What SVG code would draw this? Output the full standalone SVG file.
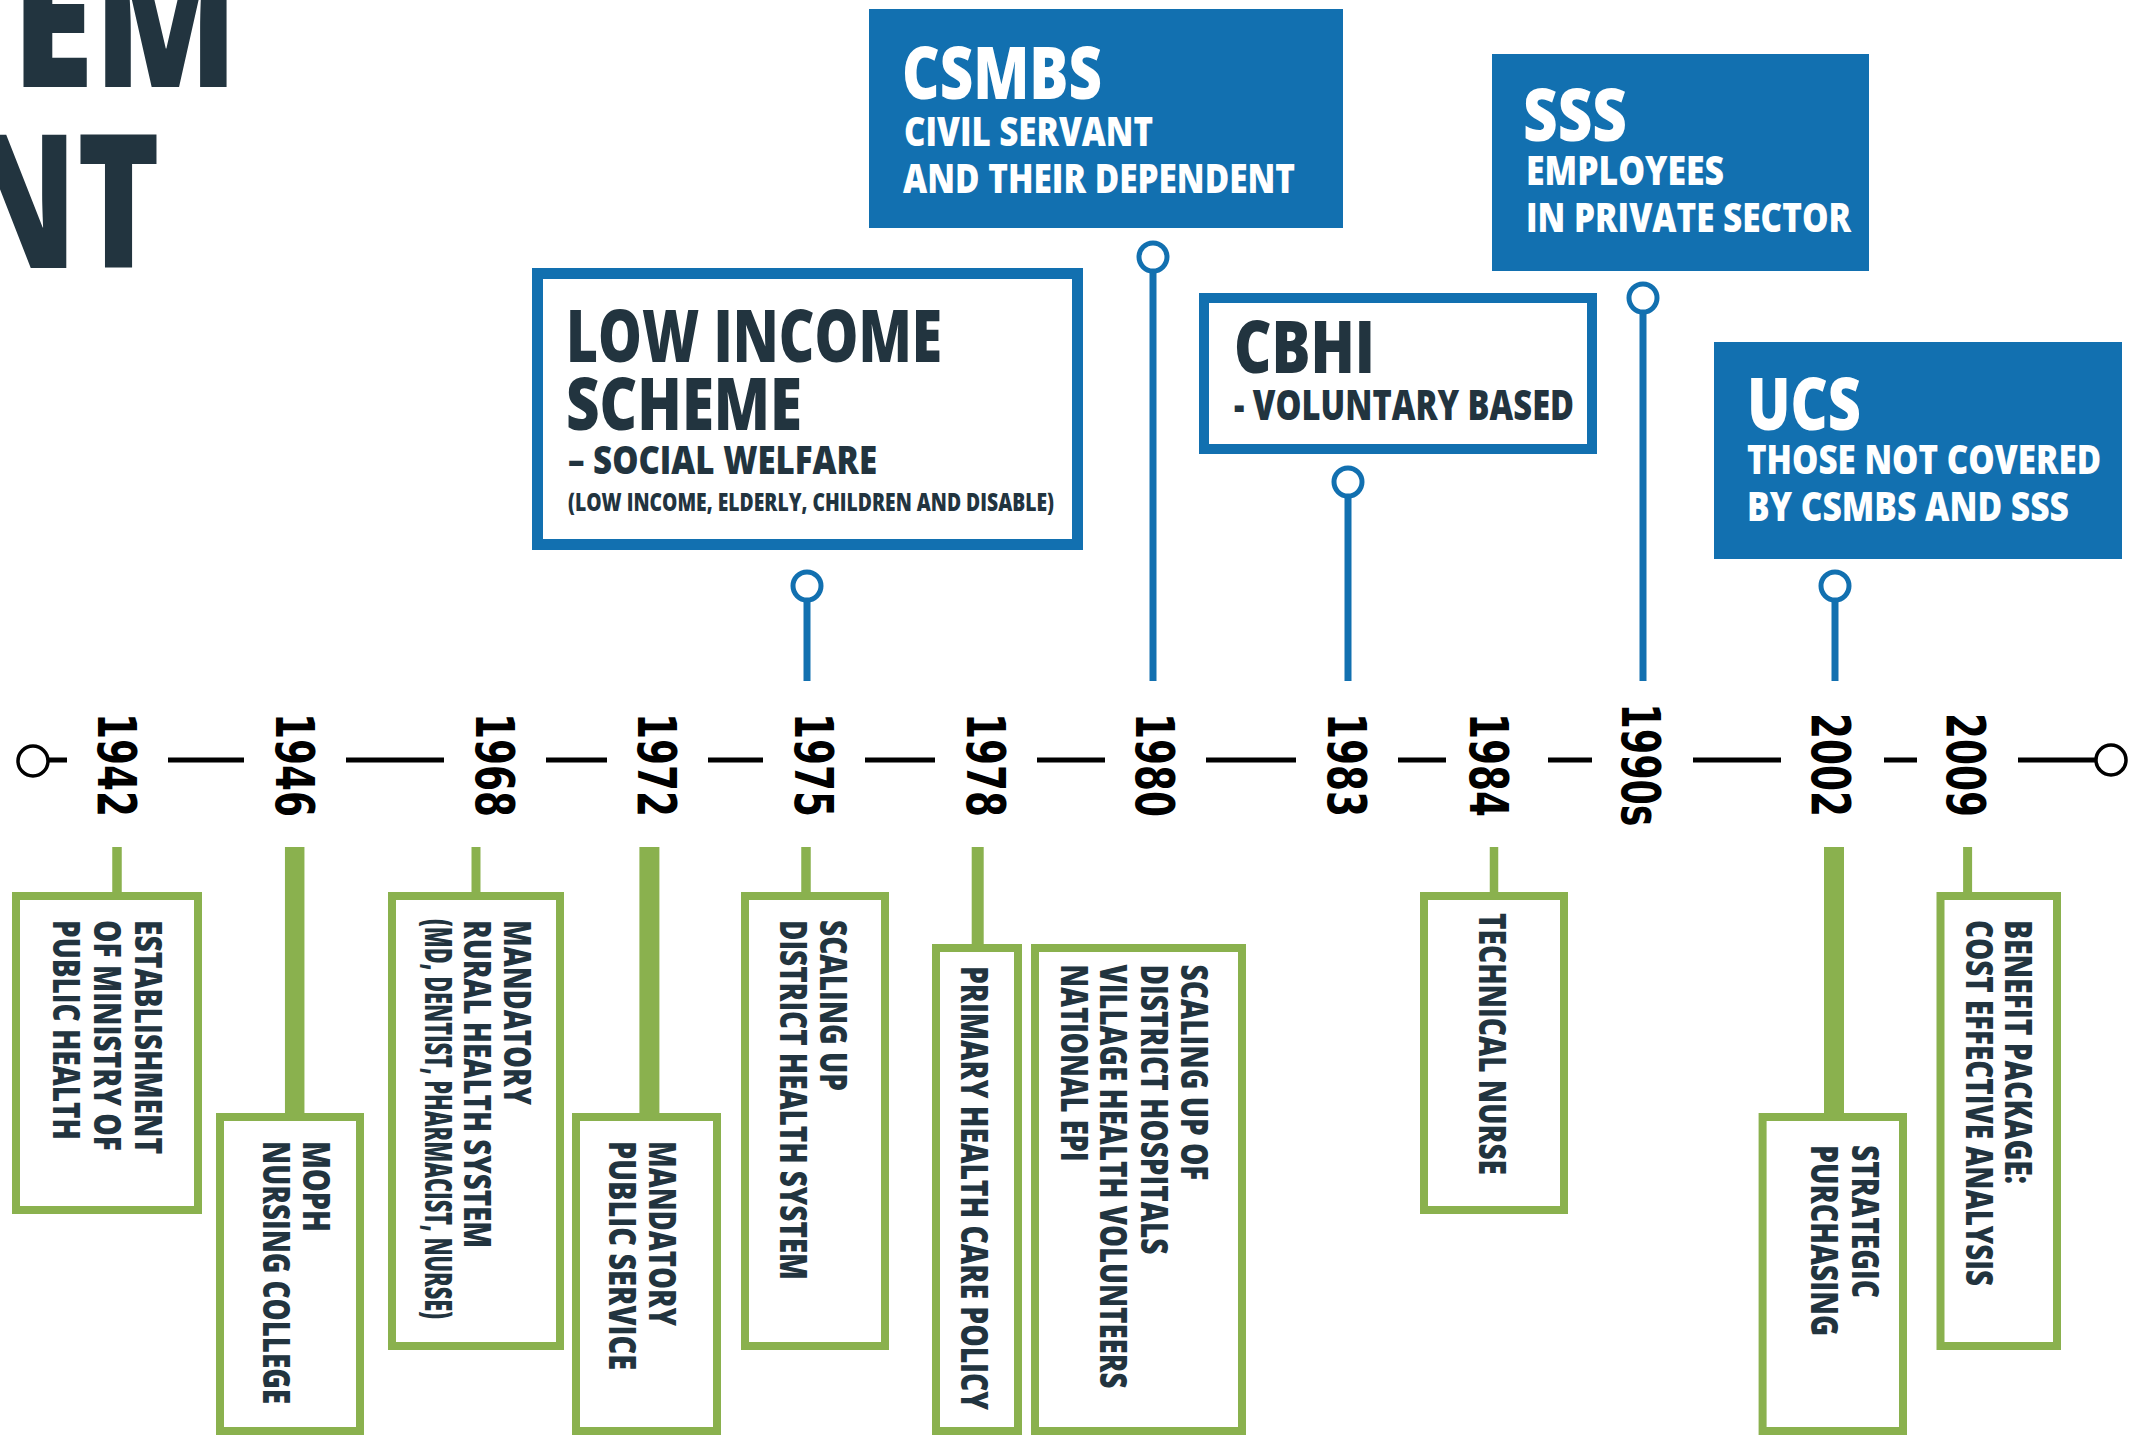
<svg xmlns="http://www.w3.org/2000/svg" width="2134" height="1441" viewBox="0 0 2134 1441">
<style>
.t{font-family:"Open Sans","Liberation Sans",sans-serif;font-weight:800}
.dark{fill:#22343f}
.wht{fill:#fff}
.bfill{fill:#1270b0}
.bout{fill:#fff;stroke:#1270b0}
.gbox{fill:#fff;stroke:#8ab14e;stroke-width:8}
.g{font-family:"Open Sans","Liberation Sans",sans-serif;font-weight:800;font-size:37px;fill:#22343f}
.yr{font-family:"DejaVu Sans","Verdana",sans-serif;font-weight:700;font-size:53px;fill:#000}
.tl{stroke:#000;stroke-width:5}
.pin{stroke:#1270b0;stroke-width:7}
.pinc{fill:#fff;stroke:#1270b0;stroke-width:5}
.stem{stroke:#8ab14e}
.end{fill:#fff;stroke:#000;stroke-width:3.5}
</style>
<rect width="2134" height="1441" fill="#fff"/>

<g id="title">
<text class="t dark" x="12" y="87" font-size="187" textLength="226" lengthAdjust="spacingAndGlyphs">EM</text>
<text class="t dark" x="160" y="268" font-size="187" text-anchor="end" textLength="200" lengthAdjust="spacingAndGlyphs">NT</text>
</g>

<g id="connectors">
<line class="tl" x1="48" y1="760" x2="67" y2="760"/>
<line class="tl" x1="168" y1="760" x2="244" y2="760"/>
<line class="tl" x1="346" y1="760" x2="444" y2="760"/>
<line class="tl" x1="546" y1="760" x2="607" y2="760"/>
<line class="tl" x1="708" y1="760" x2="763" y2="760"/>
<line class="tl" x1="865" y1="760" x2="935" y2="760"/>
<line class="tl" x1="1037" y1="760" x2="1105" y2="760"/>
<line class="tl" x1="1206" y1="760" x2="1296" y2="760"/>
<line class="tl" x1="1398" y1="760" x2="1446" y2="760"/>
<line class="tl" x1="1548" y1="760" x2="1592" y2="760"/>
<line class="tl" x1="1693" y1="760" x2="1781" y2="760"/>
<line class="tl" x1="1884" y1="760" x2="1917" y2="760"/>
<line class="tl" x1="2018" y1="760" x2="2096" y2="760"/>
<circle class="end" cx="33" cy="761" r="15"/>
<circle class="end" cx="2111" cy="760" r="15"/>

<line class="pin" x1="807" y1="601" x2="807" y2="681"/>
<line class="pin" x1="1153" y1="272" x2="1153" y2="681"/>
<line class="pin" x1="1348" y1="497" x2="1348" y2="681"/>
<line class="pin" x1="1643" y1="313" x2="1643" y2="681"/>
<line class="pin" x1="1835" y1="601" x2="1835" y2="681"/>
<circle class="pinc" cx="807" cy="586" r="14"/>
<circle class="pinc" cx="1153" cy="257" r="14"/>
<circle class="pinc" cx="1348" cy="482" r="14"/>
<circle class="pinc" cx="1643" cy="298" r="14"/>
<circle class="pinc" cx="1835" cy="586" r="14"/>

<line class="stem" stroke-width="9.5" x1="117" y1="847" x2="117" y2="893"/>
<line class="stem" stroke-width="19.5" x1="294.7" y1="847" x2="294.7" y2="1114"/>
<line class="stem" stroke-width="9" x1="476" y1="847" x2="476" y2="893"/>
<line class="stem" stroke-width="20" x1="649.4" y1="847" x2="649.4" y2="1114"/>
<line class="stem" stroke-width="9.5" x1="806" y1="847" x2="806" y2="893"/>
<line class="stem" stroke-width="12" x1="977.7" y1="847" x2="977.7" y2="953"/>
<line class="stem" stroke-width="8.5" x1="1494" y1="847" x2="1494" y2="893"/>
<line class="stem" stroke-width="20" x1="1834" y1="847" x2="1834" y2="1114"/>
<line class="stem" stroke-width="9" x1="1967.6" y1="847" x2="1967.6" y2="893"/>
</g>

<g id="years">
<text class="yr" transform="translate(98,765) rotate(90)" text-anchor="middle" textLength="104" lengthAdjust="spacingAndGlyphs">1942</text>
<text class="yr" transform="translate(276,765) rotate(90)" text-anchor="middle" textLength="104" lengthAdjust="spacingAndGlyphs">1946</text>
<text class="yr" transform="translate(476,765) rotate(90)" text-anchor="middle" textLength="104" lengthAdjust="spacingAndGlyphs">1968</text>
<text class="yr" transform="translate(638,765) rotate(90)" text-anchor="middle" textLength="104" lengthAdjust="spacingAndGlyphs">1972</text>
<text class="yr" transform="translate(795,765) rotate(90)" text-anchor="middle" textLength="104" lengthAdjust="spacingAndGlyphs">1975</text>
<text class="yr" transform="translate(967,765) rotate(90)" text-anchor="middle" textLength="104" lengthAdjust="spacingAndGlyphs">1978</text>
<text class="yr" transform="translate(1136,765) rotate(90)" text-anchor="middle" textLength="104" lengthAdjust="spacingAndGlyphs">1980</text>
<text class="yr" transform="translate(1328,765) rotate(90)" text-anchor="middle" textLength="104" lengthAdjust="spacingAndGlyphs">1983</text>
<text class="yr" transform="translate(1470,765) rotate(90)" text-anchor="middle" textLength="104" lengthAdjust="spacingAndGlyphs">1984</text>
<text class="yr" transform="translate(1622,765) rotate(90)" text-anchor="middle" textLength="123" lengthAdjust="spacingAndGlyphs">1990s</text>
<text class="yr" transform="translate(1812,765) rotate(90)" text-anchor="middle" textLength="104" lengthAdjust="spacingAndGlyphs">2002</text>
<text class="yr" transform="translate(1947,765) rotate(90)" text-anchor="middle" textLength="104" lengthAdjust="spacingAndGlyphs">2009</text>
</g>

<g id="low-income-scheme">
<rect class="bout" stroke-width="11" x="537.5" y="273.5" width="540" height="271"/>
<text class="t dark" x="566" y="362" font-size="72" textLength="376" lengthAdjust="spacingAndGlyphs">LOW INCOME</text>
<text class="t dark" x="566" y="430" font-size="72" textLength="236" lengthAdjust="spacingAndGlyphs">SCHEME</text>
<text class="t dark" x="568" y="474" font-size="39" textLength="309" lengthAdjust="spacingAndGlyphs">– SOCIAL WELFARE</text>
<text class="t dark" x="568" y="511" font-size="25" textLength="486" lengthAdjust="spacingAndGlyphs">(LOW INCOME, ELDERLY, CHILDREN AND DISABLE)</text>
</g>

<g id="csmbs">
<rect class="bfill" x="869" y="9" width="474" height="219"/>
<text class="t wht" x="902" y="99" font-size="72" textLength="200" lengthAdjust="spacingAndGlyphs">CSMBS</text>
<text class="t wht" x="904" y="146" font-size="40" textLength="249" lengthAdjust="spacingAndGlyphs">CIVIL SERVANT</text>
<text class="t wht" x="903" y="193" font-size="40" textLength="392" lengthAdjust="spacingAndGlyphs">AND THEIR DEPENDENT</text>
</g>

<g id="cbhi">
<rect class="bout" stroke-width="10" x="1204" y="298" width="388" height="151"/>
<text class="t dark" x="1234" y="373" font-size="72" textLength="141" lengthAdjust="spacingAndGlyphs">CBHI</text>
<text class="t dark" x="1234" y="420" font-size="43" textLength="340" lengthAdjust="spacingAndGlyphs">- VOLUNTARY BASED</text>
</g>

<g id="sss">
<rect class="bfill" x="1492" y="54" width="377" height="217"/>
<text class="t wht" x="1523" y="141" font-size="72" textLength="104" lengthAdjust="spacingAndGlyphs">SSS</text>
<text class="t wht" x="1526" y="185" font-size="40" textLength="198" lengthAdjust="spacingAndGlyphs">EMPLOYEES</text>
<text class="t wht" x="1526" y="232" font-size="40" textLength="325" lengthAdjust="spacingAndGlyphs">IN PRIVATE SECTOR</text>
</g>

<g id="ucs">
<rect class="bfill" x="1714" y="342" width="408" height="217"/>
<text class="t wht" x="1747" y="430" font-size="72" textLength="114" lengthAdjust="spacingAndGlyphs">UCS</text>
<text class="t wht" x="1747" y="474" font-size="40" textLength="354" lengthAdjust="spacingAndGlyphs">THOSE NOT COVERED</text>
<text class="t wht" x="1747" y="521" font-size="40" textLength="322" lengthAdjust="spacingAndGlyphs">BY CSMBS AND SSS</text>
</g>

<g id="e1942">
<rect class="gbox" x="16" y="896" width="182" height="314"/>
<text class="g" transform="translate(134.5,920) rotate(90)" textLength="234" lengthAdjust="spacingAndGlyphs">ESTABLISHMENT</text>
<text class="g" transform="translate(94.4,920) rotate(90)" textLength="231" lengthAdjust="spacingAndGlyphs">OF MINISTRY OF</text>
<text class="g" transform="translate(53.3,920) rotate(90)" textLength="220" lengthAdjust="spacingAndGlyphs">PUBLIC HEALTH</text>
</g>

<g id="e1946">
<rect class="gbox" x="220" y="1117" width="140" height="314"/>
<text class="g" transform="translate(303.4,1141) rotate(90)" textLength="91" lengthAdjust="spacingAndGlyphs">MOPH</text>
<text class="g" transform="translate(263,1141) rotate(90)" textLength="263" lengthAdjust="spacingAndGlyphs">NURSING COLLEGE</text>
</g>

<g id="e1968">
<rect class="gbox" x="392" y="896" width="168" height="450"/>
<text class="g" transform="translate(504,920) rotate(90)" textLength="185" lengthAdjust="spacingAndGlyphs">MANDATORY</text>
<text class="g" transform="translate(464,920) rotate(90)" textLength="328" lengthAdjust="spacingAndGlyphs">RURAL HEALTH SYSTEM</text>
<text class="g" font-size="26" transform="translate(425,919) rotate(90)" textLength="400" lengthAdjust="spacingAndGlyphs">(MD, DENTIST, PHARMACIST, NURSE)</text>
</g>

<g id="e1972">
<rect class="gbox" x="576" y="1117" width="141" height="314"/>
<text class="g" transform="translate(649,1141) rotate(90)" textLength="185" lengthAdjust="spacingAndGlyphs">MANDATORY</text>
<text class="g" transform="translate(609,1141) rotate(90)" textLength="229" lengthAdjust="spacingAndGlyphs">PUBLIC SERVICE</text>
</g>

<g id="e1975">
<rect class="gbox" x="745" y="896" width="140" height="450"/>
<text class="g" transform="translate(820.3,920) rotate(90)" textLength="171" lengthAdjust="spacingAndGlyphs">SCALING UP</text>
<text class="g" transform="translate(780.2,920) rotate(90)" textLength="360" lengthAdjust="spacingAndGlyphs">DISTRICT HEALTH SYSTEM</text>
</g>

<g id="e1978">
<rect class="gbox" x="936" y="948" width="82" height="483"/>
<text class="g" transform="translate(961,966) rotate(90)" textLength="444" lengthAdjust="spacingAndGlyphs">PRIMARY HEALTH CARE POLICY</text>
</g>

<g id="e1980">
<rect class="gbox" x="1035" y="948" width="207" height="483"/>
<text class="g" transform="translate(1181.4,964.5) rotate(90)" textLength="216" lengthAdjust="spacingAndGlyphs">SCALING UP OF</text>
<text class="g" transform="translate(1141.2,964.5) rotate(90)" textLength="290" lengthAdjust="spacingAndGlyphs">DISTRICT HOSPITALS</text>
<text class="g" transform="translate(1100,964.5) rotate(90)" textLength="424" lengthAdjust="spacingAndGlyphs">VILLAGE HEALTH VOLUNTEERS</text>
<text class="g" transform="translate(1061,964.5) rotate(90)" textLength="197" lengthAdjust="spacingAndGlyphs">NATIONAL EPI</text>
</g>

<g id="e1984">
<rect class="gbox" x="1424" y="896" width="140" height="314"/>
<text class="g" transform="translate(1478.7,913) rotate(90)" textLength="262" lengthAdjust="spacingAndGlyphs">TECHNICAL NURSE</text>
</g>

<g id="e2002">
<rect class="gbox" x="1762.6" y="1117" width="140.4" height="314"/>
<text class="g" transform="translate(1852,1145) rotate(90)" textLength="153" lengthAdjust="spacingAndGlyphs">STRATEGIC</text>
<text class="g" transform="translate(1811,1145) rotate(90)" textLength="191" lengthAdjust="spacingAndGlyphs">PURCHASING</text>
</g>

<g id="e2009">
<rect class="gbox" x="1940.5" y="896" width="116.5" height="450"/>
<text class="g" transform="translate(2005,920) rotate(90)" textLength="264" lengthAdjust="spacingAndGlyphs">BENEFIT PACKAGE:</text>
<text class="g" transform="translate(1965.5,920) rotate(90)" textLength="366" lengthAdjust="spacingAndGlyphs">COST EFFECTIVE ANALYSIS</text>
</g>
</svg>
